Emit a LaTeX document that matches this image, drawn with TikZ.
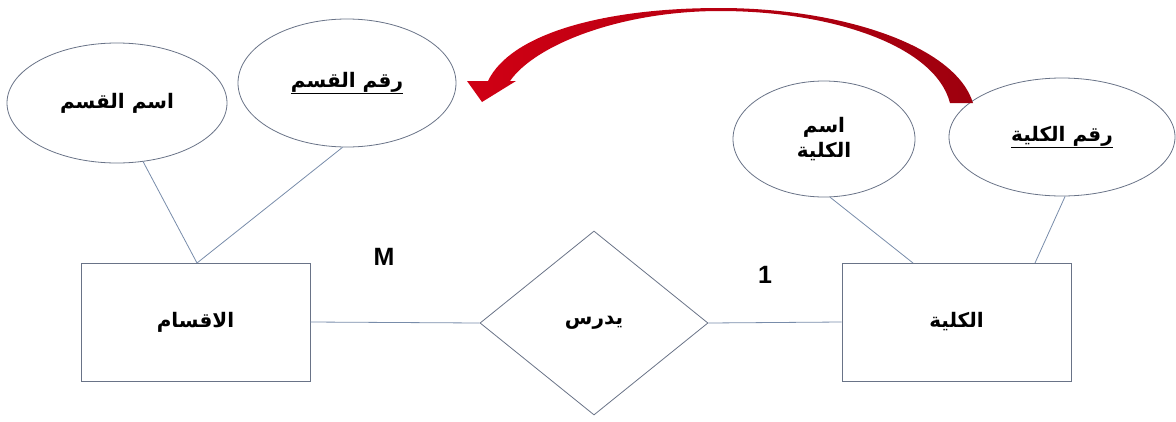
\documentclass[tikz,border=0pt]{standalone}
\usepackage{fontspec}
\setmainfont{Liberation Sans}
\newfontfamily\arabicfont[Script=Arabic]{DejaVu Sans}
\TeXXeTstate=1
\usetikzlibrary{shapes.geometric}
\definecolor{shapeline}{RGB}{105,115,135}
\definecolor{connline}{RGB}{120,140,170}
\definecolor{arrowA}{RGB}{208,0,20}
\definecolor{arrowB}{RGB}{158,0,14}
\tikzset{
  entity/.style={draw=shapeline, line width=0.9pt, rectangle, minimum width=229, minimum height=118, inner sep=0pt, font=\arabicfont\bfseries\fontsize{20}{24}\selectfont},
  attr/.style={draw=shapeline, line width=0.8pt, ellipse, inner sep=0pt, font=\arabicfont\bfseries\fontsize{20}{25}\selectfont, align=center},
  rel/.style={draw=shapeline, line width=0.8pt, diamond, minimum width=228, minimum height=184, inner sep=0pt, font=\arabicfont\bfseries\fontsize{20}{24}\selectfont},
  conn/.style={draw=connline, line width=0.8pt},
  card/.style={font=\bfseries\fontsize{25}{29}\selectfont, inner sep=0pt}
}
\begin{document}
\begin{tikzpicture}[x=1pt,y=-1pt]
\useasboundingbox (0,0) rectangle (1176,421);
% entities
\node[entity] (r1) at (195.5,322) {\beginR الاقسام\endR};
\node[entity] (r2) at (956.5,322) {\beginR الكلية\endR};
\node[rel] (d) at (594,323) {\beginR يدرس\endR};
% attributes
\node[attr, minimum width=220, minimum height=120] (e1) at (117,103) {\beginR اسم القسم\endR};
\node[attr, minimum width=218, minimum height=128] (e2) at (347,83) {\underline{\beginR رقم القسم\endR}};
\node[attr, minimum width=182, minimum height=116] (e3) at (824,139) {\beginR اسم\endR\\\beginR الكلية\endR};
\node[attr, minimum width=226, minimum height=118] (e4) at (1062,137) {\underline{\beginR رقم الكلية\endR}};
% connection points
\coordinate (p1) at (197,263);
\coordinate (p2) at (913,263);
\coordinate (p3) at (1035,263);
\draw[conn] (e1.-66) -- (p1);
\draw[conn] (e2.-94) -- (p1);
\draw[conn] (e3.-84) -- (p2);
\draw[conn] (e4.-87) -- (p3);
\draw[conn] (r1.east) -- (d.west);
\draw[conn] (d.east) -- (r2.west);
% cardinalities
\node[card] (m) at (384,257) {M};
\node[card] (one) at (765,275) {1};
% red curved arrow
\shade[left color=arrowA, right color=arrowB]
  (973,103) .. controls (955,45) and (840,8) .. (720,8)
  .. controls (600,8) and (510,35) .. (488,81)
  -- (467,81) -- (482,102) -- (516,81) -- (510,81)
  .. controls (535,45) and (620,11) .. (720,11)
  .. controls (830,11) and (935,45) .. (950,103)
  -- cycle;
\end{tikzpicture}
\end{document}
